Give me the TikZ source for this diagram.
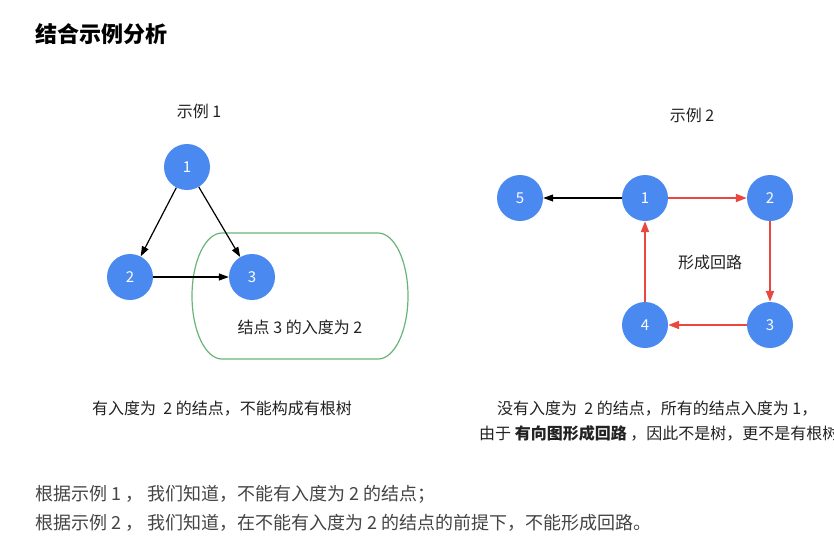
\documentclass[tikz,border=0pt]{standalone}
\usepackage{fontspec}
\setmainfont{Noto Sans CJK SC}
\usetikzlibrary{arrows.meta}
\definecolor{nodeblue}{HTML}{4A89F0}
\definecolor{cyclered}{HTML}{E9483F}
\definecolor{boxgreen}{HTML}{6AB47A}
\definecolor{txt}{HTML}{222222}
\definecolor{foot}{HTML}{444444}
\begin{document}
\begin{tikzpicture}[x=1pt,y=-1pt,
  vertex/.style={circle,fill=nodeblue,draw=none,minimum size=46pt,inner sep=0pt,text=white,font=\fontsize{15}{18}\selectfont},
  blackedge/.style={draw=black,line width=1.2pt,-{Triangle[length=10pt,width=7pt]}},
  rededge/.style={draw=cyclered,line width=2pt,-{Triangle[length=11pt,width=8pt]}},
  lbl/.style={text=txt,font=\fontsize{16}{19}\selectfont,inner sep=0pt},
  foottext/.style={text=foot,font=\fontsize{18}{21}\selectfont,anchor=west,inner sep=0pt}
]
\useasboundingbox (0,0) rectangle (834,544);
\fill[white] (0,0) rectangle (834,544);

% title
\node[anchor=west,inner sep=0pt,text=black,font=\fontsize{22}{26}\bfseries\selectfont] (title) at (35,34) {结合示例分析};

% example 1
\node[lbl] (ex1) at (199,111) {示例 1};
\draw[boxgreen,line width=1.2pt] (222,233) -- (378,233)
  .. controls (394.6,233) and (408,261.2) .. (408,296)
  .. controls (408,330.8) and (394.6,359) .. (378,359)
  -- (222,359)
  .. controls (205.4,359) and (192,330.8) .. (192,296)
  .. controls (192,261.2) and (205.4,233) .. (222,233) -- cycle;
\node[vertex] (a1) at (187,167) {1};
\node[vertex] (a2) at (130,277) {2};
\node[vertex] (a3) at (252,277) {3};
\draw[blackedge] (a1) -- (a2);
\draw[blackedge] (a1) -- (a3);
\draw[blackedge] (a2) -- (a3);
\node[lbl] (boxlbl) at (300,327) {结点 3 的入度为 2};
\node[lbl] (cap1) at (222,409) {有入度为~~2 的结点，不能构成有根树};

% example 2
\node[lbl] (ex2) at (692,115) {示例 2};
\node[vertex] (b5) at (520,198) {5};
\node[vertex] (b1) at (645,198) {1};
\node[vertex] (b2) at (770,198) {2};
\node[vertex] (b3) at (770,325) {3};
\node[vertex] (b4) at (645,325) {4};
\draw[blackedge] (b1) -- (b5);
\draw[rededge] (b1) -- (b2);
\draw[rededge] (b2) -- (b3);
\draw[rededge] (b3) -- (b4);
\draw[rededge] (b4) -- (b1);
\node[lbl] (loop) at (710,262) {形成回路};
\node[lbl,anchor=west] (cap2a) at (497,409) {没有入度为~~2 的结点，所有的结点入度为 1，};
\node[lbl,anchor=west] (cap2b) at (479,433) {由于 \textbf{有向图形成回路} ，因此不是树，更不是有根树};

% footer
\node[foottext] (f1) at (35,494) {根据示例 1 ， 我们知道，不能有入度为 2 的结点；};
\node[foottext] (f2) at (35,523) {根据示例 2 ， 我们知道，在不能有入度为 2 的结点的前提下，不能形成回路。};
\end{tikzpicture}
\end{document}
